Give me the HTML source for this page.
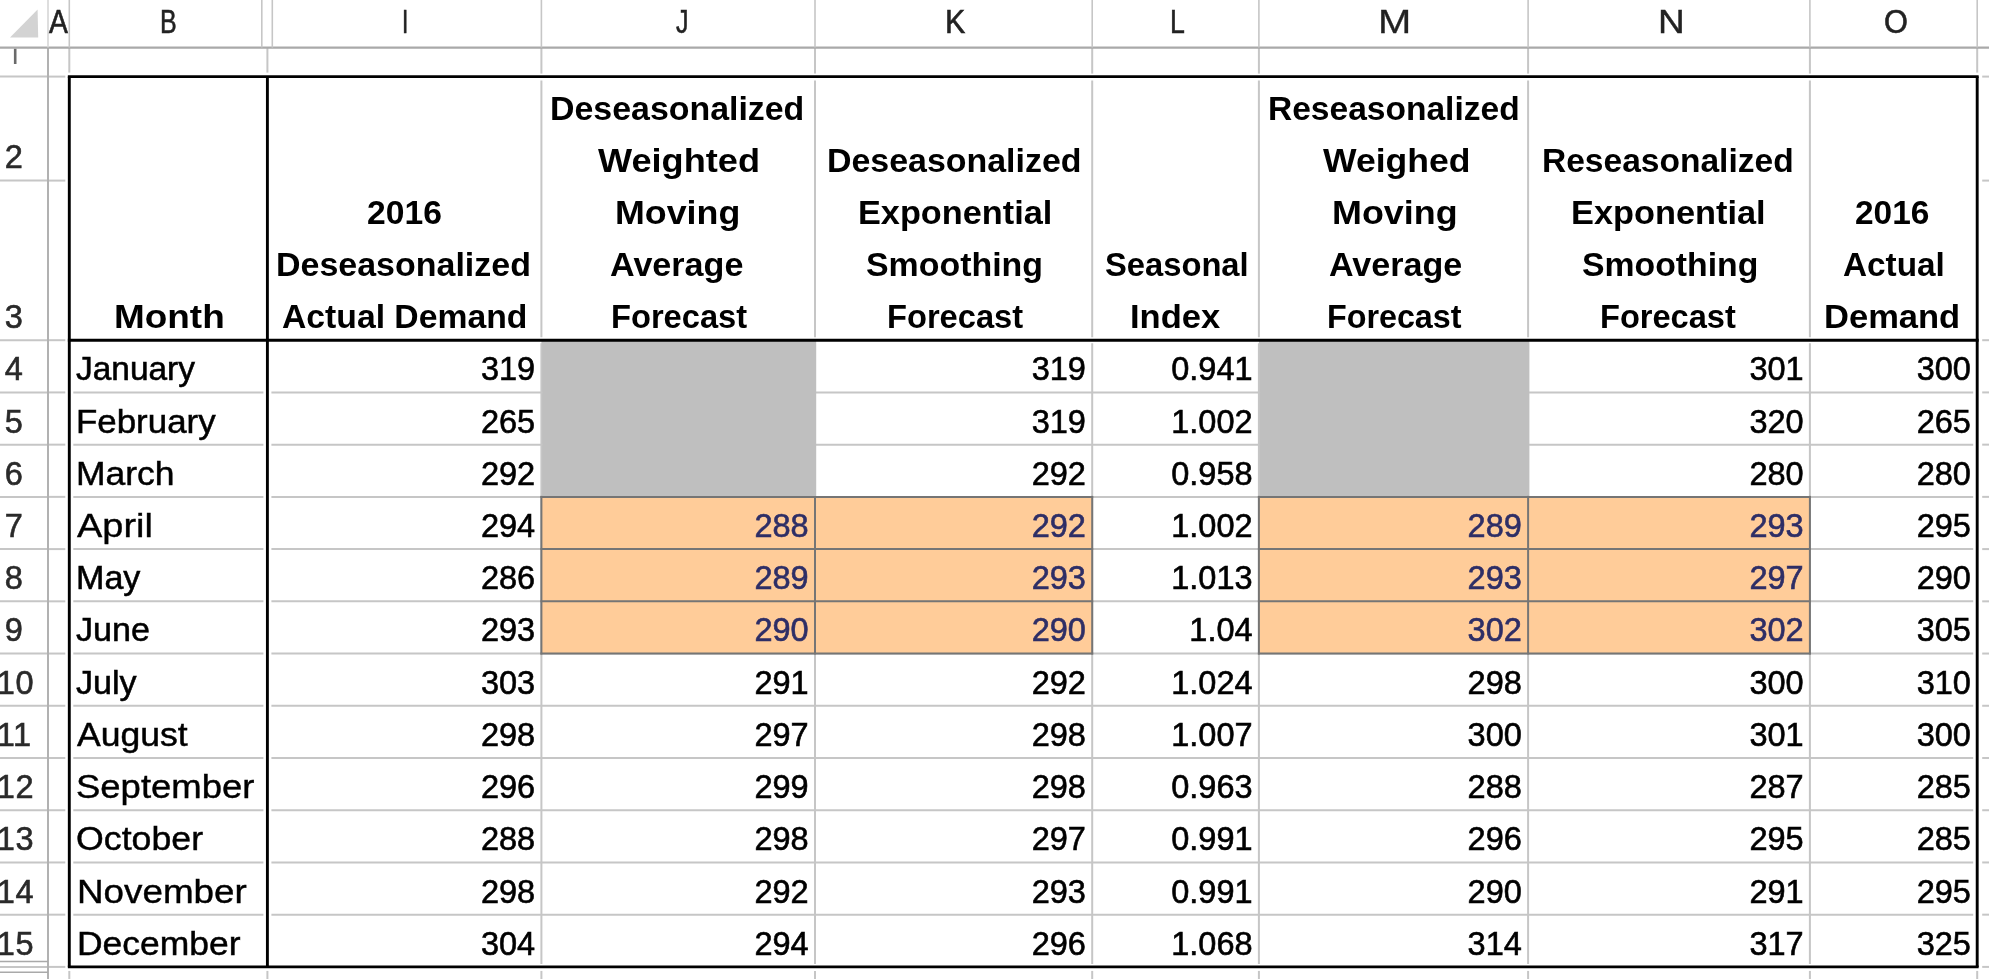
<!DOCTYPE html>
<html><head><meta charset="utf-8"><title>Sheet</title>
<style>
html,body{margin:0;padding:0;background:#fff;}
body{width:1989px;height:979px;overflow:hidden;position:relative;font-family:"Liberation Sans", sans-serif;}
#sheet{position:absolute;left:0;top:0;width:1989px;height:979px;filter:blur(0.7px);}
svg{position:absolute;left:0;top:0;}
.t{position:absolute;white-space:nowrap;font-size:32.5px;line-height:1;color:#000;transform-origin:0 0;}
.t{-webkit-text-stroke:0.6px currentColor;}
.b{font-weight:bold;-webkit-text-stroke:0;}
#r1{position:absolute;left:0;top:48.6px;width:47px;height:27.0px;overflow:hidden;}
</style></head><body>
<div id="sheet">
<svg width="1989" height="979" viewBox="0 0 1989 979">
<rect x="541.40" y="340.20" width="274.60" height="156.68" fill="#bfbfbf"/>
<rect x="1258.90" y="340.20" width="270.20" height="156.68" fill="#bfbfbf"/>
<rect x="541.40" y="496.88" width="550.80" height="156.67" fill="#ffcc99"/>
<rect x="1258.90" y="496.88" width="551.00" height="156.67" fill="#ffcc99"/>
<line x1="0.00" y1="392.43" x2="47.00" y2="392.43" stroke="#c6c6c6" stroke-width="2.0"/>
<line x1="49.00" y1="392.43" x2="65.30" y2="392.43" stroke="#c6c6c6" stroke-width="2.0"/>
<line x1="73.30" y1="392.43" x2="263.40" y2="392.43" stroke="#c6c6c6" stroke-width="2.0"/>
<line x1="271.40" y1="392.43" x2="1973.20" y2="392.43" stroke="#c6c6c6" stroke-width="2.0"/>
<line x1="1982.20" y1="392.43" x2="1989.00" y2="392.43" stroke="#c6c6c6" stroke-width="2.0"/>
<line x1="0.00" y1="444.65" x2="47.00" y2="444.65" stroke="#c6c6c6" stroke-width="2.0"/>
<line x1="49.00" y1="444.65" x2="65.30" y2="444.65" stroke="#c6c6c6" stroke-width="2.0"/>
<line x1="73.30" y1="444.65" x2="263.40" y2="444.65" stroke="#c6c6c6" stroke-width="2.0"/>
<line x1="271.40" y1="444.65" x2="1973.20" y2="444.65" stroke="#c6c6c6" stroke-width="2.0"/>
<line x1="1982.20" y1="444.65" x2="1989.00" y2="444.65" stroke="#c6c6c6" stroke-width="2.0"/>
<line x1="0.00" y1="496.88" x2="47.00" y2="496.88" stroke="#c6c6c6" stroke-width="2.0"/>
<line x1="49.00" y1="496.88" x2="65.30" y2="496.88" stroke="#c6c6c6" stroke-width="2.0"/>
<line x1="73.30" y1="496.88" x2="263.40" y2="496.88" stroke="#c6c6c6" stroke-width="2.0"/>
<line x1="271.40" y1="496.88" x2="1973.20" y2="496.88" stroke="#c6c6c6" stroke-width="2.0"/>
<line x1="1982.20" y1="496.88" x2="1989.00" y2="496.88" stroke="#c6c6c6" stroke-width="2.0"/>
<line x1="0.00" y1="549.10" x2="47.00" y2="549.10" stroke="#c6c6c6" stroke-width="2.0"/>
<line x1="49.00" y1="549.10" x2="65.30" y2="549.10" stroke="#c6c6c6" stroke-width="2.0"/>
<line x1="73.30" y1="549.10" x2="263.40" y2="549.10" stroke="#c6c6c6" stroke-width="2.0"/>
<line x1="271.40" y1="549.10" x2="1973.20" y2="549.10" stroke="#c6c6c6" stroke-width="2.0"/>
<line x1="1982.20" y1="549.10" x2="1989.00" y2="549.10" stroke="#c6c6c6" stroke-width="2.0"/>
<line x1="0.00" y1="601.33" x2="47.00" y2="601.33" stroke="#c6c6c6" stroke-width="2.0"/>
<line x1="49.00" y1="601.33" x2="65.30" y2="601.33" stroke="#c6c6c6" stroke-width="2.0"/>
<line x1="73.30" y1="601.33" x2="263.40" y2="601.33" stroke="#c6c6c6" stroke-width="2.0"/>
<line x1="271.40" y1="601.33" x2="1973.20" y2="601.33" stroke="#c6c6c6" stroke-width="2.0"/>
<line x1="1982.20" y1="601.33" x2="1989.00" y2="601.33" stroke="#c6c6c6" stroke-width="2.0"/>
<line x1="0.00" y1="653.55" x2="47.00" y2="653.55" stroke="#c6c6c6" stroke-width="2.0"/>
<line x1="49.00" y1="653.55" x2="65.30" y2="653.55" stroke="#c6c6c6" stroke-width="2.0"/>
<line x1="73.30" y1="653.55" x2="263.40" y2="653.55" stroke="#c6c6c6" stroke-width="2.0"/>
<line x1="271.40" y1="653.55" x2="1973.20" y2="653.55" stroke="#c6c6c6" stroke-width="2.0"/>
<line x1="1982.20" y1="653.55" x2="1989.00" y2="653.55" stroke="#c6c6c6" stroke-width="2.0"/>
<line x1="0.00" y1="705.77" x2="47.00" y2="705.77" stroke="#c6c6c6" stroke-width="2.0"/>
<line x1="49.00" y1="705.77" x2="65.30" y2="705.77" stroke="#c6c6c6" stroke-width="2.0"/>
<line x1="73.30" y1="705.77" x2="263.40" y2="705.77" stroke="#c6c6c6" stroke-width="2.0"/>
<line x1="271.40" y1="705.77" x2="1973.20" y2="705.77" stroke="#c6c6c6" stroke-width="2.0"/>
<line x1="1982.20" y1="705.77" x2="1989.00" y2="705.77" stroke="#c6c6c6" stroke-width="2.0"/>
<line x1="0.00" y1="758.00" x2="47.00" y2="758.00" stroke="#c6c6c6" stroke-width="2.0"/>
<line x1="49.00" y1="758.00" x2="65.30" y2="758.00" stroke="#c6c6c6" stroke-width="2.0"/>
<line x1="73.30" y1="758.00" x2="263.40" y2="758.00" stroke="#c6c6c6" stroke-width="2.0"/>
<line x1="271.40" y1="758.00" x2="1973.20" y2="758.00" stroke="#c6c6c6" stroke-width="2.0"/>
<line x1="1982.20" y1="758.00" x2="1989.00" y2="758.00" stroke="#c6c6c6" stroke-width="2.0"/>
<line x1="0.00" y1="810.23" x2="47.00" y2="810.23" stroke="#c6c6c6" stroke-width="2.0"/>
<line x1="49.00" y1="810.23" x2="65.30" y2="810.23" stroke="#c6c6c6" stroke-width="2.0"/>
<line x1="73.30" y1="810.23" x2="263.40" y2="810.23" stroke="#c6c6c6" stroke-width="2.0"/>
<line x1="271.40" y1="810.23" x2="1973.20" y2="810.23" stroke="#c6c6c6" stroke-width="2.0"/>
<line x1="1982.20" y1="810.23" x2="1989.00" y2="810.23" stroke="#c6c6c6" stroke-width="2.0"/>
<line x1="0.00" y1="862.45" x2="47.00" y2="862.45" stroke="#c6c6c6" stroke-width="2.0"/>
<line x1="49.00" y1="862.45" x2="65.30" y2="862.45" stroke="#c6c6c6" stroke-width="2.0"/>
<line x1="73.30" y1="862.45" x2="263.40" y2="862.45" stroke="#c6c6c6" stroke-width="2.0"/>
<line x1="271.40" y1="862.45" x2="1973.20" y2="862.45" stroke="#c6c6c6" stroke-width="2.0"/>
<line x1="1982.20" y1="862.45" x2="1989.00" y2="862.45" stroke="#c6c6c6" stroke-width="2.0"/>
<line x1="0.00" y1="914.67" x2="47.00" y2="914.67" stroke="#c6c6c6" stroke-width="2.0"/>
<line x1="49.00" y1="914.67" x2="65.30" y2="914.67" stroke="#c6c6c6" stroke-width="2.0"/>
<line x1="73.30" y1="914.67" x2="263.40" y2="914.67" stroke="#c6c6c6" stroke-width="2.0"/>
<line x1="271.40" y1="914.67" x2="1973.20" y2="914.67" stroke="#c6c6c6" stroke-width="2.0"/>
<line x1="1982.20" y1="914.67" x2="1989.00" y2="914.67" stroke="#c6c6c6" stroke-width="2.0"/>
<line x1="0.00" y1="76.60" x2="47.00" y2="76.60" stroke="#c6c6c6" stroke-width="2.0"/>
<line x1="49.00" y1="76.60" x2="65.30" y2="76.60" stroke="#c6c6c6" stroke-width="2.0"/>
<line x1="1982.20" y1="76.60" x2="1989.00" y2="76.60" stroke="#c6c6c6" stroke-width="2.0"/>
<line x1="0.00" y1="180.60" x2="47.00" y2="180.60" stroke="#c6c6c6" stroke-width="2.0"/>
<line x1="49.00" y1="180.60" x2="65.30" y2="180.60" stroke="#c6c6c6" stroke-width="2.0"/>
<line x1="1982.20" y1="180.60" x2="1989.00" y2="180.60" stroke="#c6c6c6" stroke-width="2.0"/>
<line x1="0.00" y1="340.20" x2="47.00" y2="340.20" stroke="#c6c6c6" stroke-width="2.0"/>
<line x1="49.00" y1="340.20" x2="65.30" y2="340.20" stroke="#c6c6c6" stroke-width="2.0"/>
<line x1="1982.20" y1="340.20" x2="1989.00" y2="340.20" stroke="#c6c6c6" stroke-width="2.0"/>
<line x1="0.00" y1="966.90" x2="47.00" y2="966.90" stroke="#c6c6c6" stroke-width="2.0"/>
<line x1="49.00" y1="966.90" x2="65.30" y2="966.90" stroke="#c6c6c6" stroke-width="2.0"/>
<line x1="1982.20" y1="966.90" x2="1989.00" y2="966.90" stroke="#c6c6c6" stroke-width="2.0"/>
<line x1="541.40" y1="47.60" x2="541.40" y2="73.60" stroke="#c6c6c6" stroke-width="2.0"/>
<line x1="541.40" y1="80.60" x2="541.40" y2="337.20" stroke="#c6c6c6" stroke-width="2.0"/>
<line x1="541.40" y1="343.20" x2="541.40" y2="963.90" stroke="#c6c6c6" stroke-width="2.0"/>
<line x1="541.40" y1="970.90" x2="541.40" y2="979.00" stroke="#c6c6c6" stroke-width="2.0"/>
<line x1="815.00" y1="47.60" x2="815.00" y2="73.60" stroke="#c6c6c6" stroke-width="2.0"/>
<line x1="815.00" y1="80.60" x2="815.00" y2="337.20" stroke="#c6c6c6" stroke-width="2.0"/>
<line x1="815.00" y1="343.20" x2="815.00" y2="963.90" stroke="#c6c6c6" stroke-width="2.0"/>
<line x1="815.00" y1="970.90" x2="815.00" y2="979.00" stroke="#c6c6c6" stroke-width="2.0"/>
<line x1="1092.20" y1="47.60" x2="1092.20" y2="73.60" stroke="#c6c6c6" stroke-width="2.0"/>
<line x1="1092.20" y1="80.60" x2="1092.20" y2="337.20" stroke="#c6c6c6" stroke-width="2.0"/>
<line x1="1092.20" y1="343.20" x2="1092.20" y2="963.90" stroke="#c6c6c6" stroke-width="2.0"/>
<line x1="1092.20" y1="970.90" x2="1092.20" y2="979.00" stroke="#c6c6c6" stroke-width="2.0"/>
<line x1="1258.90" y1="47.60" x2="1258.90" y2="73.60" stroke="#c6c6c6" stroke-width="2.0"/>
<line x1="1258.90" y1="80.60" x2="1258.90" y2="337.20" stroke="#c6c6c6" stroke-width="2.0"/>
<line x1="1258.90" y1="343.20" x2="1258.90" y2="963.90" stroke="#c6c6c6" stroke-width="2.0"/>
<line x1="1258.90" y1="970.90" x2="1258.90" y2="979.00" stroke="#c6c6c6" stroke-width="2.0"/>
<line x1="1528.10" y1="47.60" x2="1528.10" y2="73.60" stroke="#c6c6c6" stroke-width="2.0"/>
<line x1="1528.10" y1="80.60" x2="1528.10" y2="337.20" stroke="#c6c6c6" stroke-width="2.0"/>
<line x1="1528.10" y1="343.20" x2="1528.10" y2="963.90" stroke="#c6c6c6" stroke-width="2.0"/>
<line x1="1528.10" y1="970.90" x2="1528.10" y2="979.00" stroke="#c6c6c6" stroke-width="2.0"/>
<line x1="1809.90" y1="47.60" x2="1809.90" y2="73.60" stroke="#c6c6c6" stroke-width="2.0"/>
<line x1="1809.90" y1="80.60" x2="1809.90" y2="337.20" stroke="#c6c6c6" stroke-width="2.0"/>
<line x1="1809.90" y1="343.20" x2="1809.90" y2="963.90" stroke="#c6c6c6" stroke-width="2.0"/>
<line x1="1809.90" y1="970.90" x2="1809.90" y2="979.00" stroke="#c6c6c6" stroke-width="2.0"/>
<line x1="69.30" y1="47.60" x2="69.30" y2="72.60" stroke="#c6c6c6" stroke-width="2.0"/>
<line x1="69.30" y1="970.90" x2="69.30" y2="979.00" stroke="#c6c6c6" stroke-width="2.0"/>
<line x1="267.40" y1="47.60" x2="267.40" y2="72.60" stroke="#c6c6c6" stroke-width="2.0"/>
<line x1="267.40" y1="970.90" x2="267.40" y2="979.00" stroke="#c6c6c6" stroke-width="2.0"/>
<line x1="1977.20" y1="47.60" x2="1977.20" y2="72.60" stroke="#c6c6c6" stroke-width="2.0"/>
<line x1="1977.20" y1="970.90" x2="1977.20" y2="979.00" stroke="#c6c6c6" stroke-width="2.0"/>
<rect x="542.60" y="341.70" width="273.60" height="155.18" fill="#bfbfbf"/>
<rect x="1260.10" y="341.70" width="269.20" height="155.18" fill="#bfbfbf"/>
<rect x="541.40" y="496.88" width="550.80" height="156.67" fill="#ffcc99"/>
<rect x="1258.90" y="496.88" width="551.00" height="156.67" fill="#ffcc99"/>
<line x1="540.40" y1="496.88" x2="1093.20" y2="496.88" stroke="#757575" stroke-width="2"/>
<line x1="540.40" y1="549.10" x2="1093.20" y2="549.10" stroke="#757575" stroke-width="2"/>
<line x1="540.40" y1="601.33" x2="1093.20" y2="601.33" stroke="#757575" stroke-width="2"/>
<line x1="540.40" y1="653.55" x2="1093.20" y2="653.55" stroke="#757575" stroke-width="2"/>
<line x1="541.40" y1="495.88" x2="541.40" y2="654.55" stroke="#757575" stroke-width="2"/>
<line x1="815.00" y1="495.88" x2="815.00" y2="654.55" stroke="#757575" stroke-width="2"/>
<line x1="1092.20" y1="495.88" x2="1092.20" y2="654.55" stroke="#757575" stroke-width="2"/>
<line x1="1257.90" y1="496.88" x2="1810.90" y2="496.88" stroke="#757575" stroke-width="2"/>
<line x1="1257.90" y1="549.10" x2="1810.90" y2="549.10" stroke="#757575" stroke-width="2"/>
<line x1="1257.90" y1="601.33" x2="1810.90" y2="601.33" stroke="#757575" stroke-width="2"/>
<line x1="1257.90" y1="653.55" x2="1810.90" y2="653.55" stroke="#757575" stroke-width="2"/>
<line x1="1258.90" y1="495.88" x2="1258.90" y2="654.55" stroke="#757575" stroke-width="2"/>
<line x1="1528.10" y1="495.88" x2="1528.10" y2="654.55" stroke="#757575" stroke-width="2"/>
<line x1="1809.90" y1="495.88" x2="1809.90" y2="654.55" stroke="#757575" stroke-width="2"/>
<line x1="0.00" y1="47.60" x2="1989.00" y2="47.60" stroke="#a9a9a9" stroke-width="2.2"/>
<line x1="48.00" y1="47.60" x2="48.00" y2="979.00" stroke="#a9a9a9" stroke-width="1.8"/>
<line x1="48.00" y1="0.00" x2="48.00" y2="47.60" stroke="#d6d6d6" stroke-width="1.6"/>
<line x1="69.30" y1="0.00" x2="69.30" y2="47.60" stroke="#c6c6c6" stroke-width="1.6"/>
<line x1="541.40" y1="0.00" x2="541.40" y2="47.60" stroke="#c6c6c6" stroke-width="1.6"/>
<line x1="815.00" y1="0.00" x2="815.00" y2="47.60" stroke="#c6c6c6" stroke-width="1.6"/>
<line x1="1092.20" y1="0.00" x2="1092.20" y2="47.60" stroke="#c6c6c6" stroke-width="1.6"/>
<line x1="1258.90" y1="0.00" x2="1258.90" y2="47.60" stroke="#c6c6c6" stroke-width="1.6"/>
<line x1="1528.10" y1="0.00" x2="1528.10" y2="47.60" stroke="#c6c6c6" stroke-width="1.6"/>
<line x1="1809.90" y1="0.00" x2="1809.90" y2="47.60" stroke="#c6c6c6" stroke-width="1.6"/>
<line x1="1977.20" y1="0.00" x2="1977.20" y2="47.60" stroke="#c6c6c6" stroke-width="1.6"/>
<line x1="261.80" y1="0.00" x2="261.80" y2="47.60" stroke="#c6c6c6" stroke-width="1.6"/>
<line x1="272.30" y1="0.00" x2="272.30" y2="47.60" stroke="#c6c6c6" stroke-width="1.6"/>
<line x1="0.00" y1="961.50" x2="48.00" y2="961.50" stroke="#a9a9a9" stroke-width="1.6"/>
<line x1="0.00" y1="972.20" x2="48.00" y2="972.20" stroke="#a9a9a9" stroke-width="1.6"/>
<rect x="13.90" y="48.80" width="2.60" height="15.20" fill="#6a6a6a"/>
<polygon points="10,37.5 37.6,9.5 38.2,37.5" fill="#d3d3d3"/>
<line x1="67.85" y1="76.60" x2="1978.65" y2="76.60" stroke="#000" stroke-width="2.9"/>
<line x1="67.85" y1="966.90" x2="1978.65" y2="966.90" stroke="#000" stroke-width="2.9"/>
<line x1="67.85" y1="340.20" x2="1978.65" y2="340.20" stroke="#000" stroke-width="2.9"/>
<line x1="69.30" y1="76.60" x2="69.30" y2="966.90" stroke="#000" stroke-width="2.9"/>
<line x1="267.40" y1="76.60" x2="267.40" y2="966.90" stroke="#000" stroke-width="2.9"/>
<line x1="1977.20" y1="76.60" x2="1977.20" y2="966.90" stroke="#000" stroke-width="2.9"/>
</svg>

<span class="t" style="left:49.16px;top:5.69px;color:#222;transform:scaleX(0.8717);">A</span>
<span class="t" style="left:160.19px;top:5.69px;color:#222;transform:scaleX(0.7688);">B</span>
<span class="t" style="left:402.32px;top:5.69px;color:#222;transform:scaleX(0.6957);">I</span>
<span class="t" style="left:676.03px;top:5.69px;color:#222;transform:scaleX(0.7671);">J</span>
<span class="t" style="left:944.91px;top:5.69px;color:#222;transform:scaleX(0.9369);">K</span>
<span class="t" style="left:1169.61px;top:5.69px;color:#222;transform:scaleX(0.8205);">L</span>
<span class="t" style="left:1377.91px;top:5.69px;color:#222;transform:scaleX(1.2288);-webkit-text-stroke-width:0.26px;">M</span>
<span class="t" style="left:1657.97px;top:5.69px;color:#222;transform:scaleX(1.1378);-webkit-text-stroke-width:0.39px;">N</span>
<span class="t" style="left:1884.04px;top:5.69px;color:#222;transform:scaleX(0.9449);">O</span>
<span class="t" style="left:4.76px;top:141.19px;color:#2a2a2a;">2</span>
<span class="t" style="left:4.76px;top:301.09px;color:#2a2a2a;">3</span>
<span class="t" style="left:4.76px;top:353.31px;color:#2a2a2a;">4</span>
<span class="t" style="left:4.76px;top:405.54px;color:#2a2a2a;">5</span>
<span class="t" style="left:4.76px;top:457.76px;color:#2a2a2a;">6</span>
<span class="t" style="left:4.76px;top:509.99px;color:#2a2a2a;">7</span>
<span class="t" style="left:4.76px;top:562.21px;color:#2a2a2a;">8</span>
<span class="t" style="left:4.76px;top:614.44px;color:#2a2a2a;">9</span>
<span class="t" style="left:-3.30px;top:666.66px;color:#2a2a2a;letter-spacing:0.6px;">10</span>
<span class="t" style="left:-3.30px;top:718.89px;color:#2a2a2a;letter-spacing:0.6px;">11</span>
<span class="t" style="left:-3.30px;top:771.11px;color:#2a2a2a;letter-spacing:0.6px;">12</span>
<span class="t" style="left:-3.30px;top:823.34px;color:#2a2a2a;letter-spacing:0.6px;">13</span>
<span class="t" style="left:-3.30px;top:875.56px;color:#2a2a2a;letter-spacing:0.6px;">14</span>
<span class="t" style="left:-3.30px;top:927.79px;color:#2a2a2a;letter-spacing:0.6px;">15</span>
<span class="t b" style="left:114.33px;top:301.49px;transform:scaleX(1.1357);">Month</span>
<span class="t b" style="left:366.66px;top:197.09px;transform:scaleX(1.0352);">2016</span>
<span class="t b" style="left:275.71px;top:249.29px;transform:scaleX(1.0454);">Deseasonalized</span>
<span class="t b" style="left:281.90px;top:301.49px;transform:scaleX(1.0370);">Actual Demand</span>
<span class="t b" style="left:550.01px;top:92.69px;transform:scaleX(1.0429);">Deseasonalized</span>
<span class="t b" style="left:598.30px;top:144.89px;transform:scaleX(1.1120);">Weighted</span>
<span class="t b" style="left:614.70px;top:197.09px;transform:scaleX(1.1012);">Moving</span>
<span class="t b" style="left:610.40px;top:249.29px;transform:scaleX(1.0501);">Average</span>
<span class="t b" style="left:610.59px;top:301.49px;transform:scaleX(1.0048);">Forecast</span>
<span class="t b" style="left:826.51px;top:144.89px;transform:scaleX(1.0437);">Deseasonalized</span>
<span class="t b" style="left:857.99px;top:197.09px;transform:scaleX(1.0546);">Exponential</span>
<span class="t b" style="left:866.00px;top:249.29px;transform:scaleX(1.0433);">Smoothing</span>
<span class="t b" style="left:887.09px;top:301.49px;transform:scaleX(1.0048);">Forecast</span>
<span class="t b" style="left:1104.50px;top:249.29px;transform:scaleX(1.0065);">Seasonal</span>
<span class="t b" style="left:1130.27px;top:301.49px;transform:scaleX(1.0627);">Index</span>
<span class="t b" style="left:1267.84px;top:92.69px;transform:scaleX(1.0320);">Reseasonalized</span>
<span class="t b" style="left:1322.70px;top:144.89px;transform:scaleX(1.0935);">Weighed</span>
<span class="t b" style="left:1332.39px;top:197.09px;transform:scaleX(1.1039);">Moving</span>
<span class="t b" style="left:1328.60px;top:249.29px;transform:scaleX(1.0485);">Average</span>
<span class="t b" style="left:1326.61px;top:301.49px;transform:scaleX(0.9929);">Forecast</span>
<span class="t b" style="left:1541.74px;top:144.89px;transform:scaleX(1.0320);">Reseasonalized</span>
<span class="t b" style="left:1570.69px;top:197.09px;transform:scaleX(1.0563);">Exponential</span>
<span class="t b" style="left:1581.70px;top:249.29px;transform:scaleX(1.0391);">Smoothing</span>
<span class="t b" style="left:1599.99px;top:301.49px;transform:scaleX(1.0026);">Forecast</span>
<span class="t b" style="left:1855.47px;top:197.09px;transform:scaleX(1.0296);">2016</span>
<span class="t b" style="left:1843.00px;top:249.29px;transform:scaleX(1.0257);">Actual</span>
<span class="t b" style="left:1824.28px;top:301.49px;transform:scaleX(1.0622);">Demand</span>
<span class="t" style="left:75.71px;top:353.31px;transform:scaleX(1.0284);-webkit-text-stroke-width:0.56px;">January</span>
<span class="t" style="left:480.88px;top:353.31px;">319</span>
<span class="t" style="left:1031.68px;top:353.31px;">319</span>
<span class="t" style="left:1171.27px;top:353.31px;">0.941</span>
<span class="t" style="left:1749.38px;top:353.31px;">301</span>
<span class="t" style="left:1916.68px;top:353.31px;">300</span>
<span class="t" style="left:76.18px;top:405.54px;transform:scaleX(1.0734);-webkit-text-stroke-width:0.49px;">February</span>
<span class="t" style="left:480.88px;top:405.54px;">265</span>
<span class="t" style="left:1031.68px;top:405.54px;">319</span>
<span class="t" style="left:1171.27px;top:405.54px;">1.002</span>
<span class="t" style="left:1749.38px;top:405.54px;">320</span>
<span class="t" style="left:1916.68px;top:405.54px;">265</span>
<span class="t" style="left:76.14px;top:457.76px;transform:scaleX(1.0919);-webkit-text-stroke-width:0.46px;">March</span>
<span class="t" style="left:480.88px;top:457.76px;">292</span>
<span class="t" style="left:1031.68px;top:457.76px;">292</span>
<span class="t" style="left:1171.27px;top:457.76px;">0.958</span>
<span class="t" style="left:1749.38px;top:457.76px;">280</span>
<span class="t" style="left:1916.68px;top:457.76px;">280</span>
<span class="t" style="left:76.65px;top:509.99px;transform:scaleX(1.1678);-webkit-text-stroke-width:0.35px;">April</span>
<span class="t" style="left:480.88px;top:509.99px;">294</span>
<span class="t" style="left:754.48px;top:509.99px;color:#2e2e66;">288</span>
<span class="t" style="left:1031.68px;top:509.99px;color:#2e2e66;">292</span>
<span class="t" style="left:1171.27px;top:509.99px;">1.002</span>
<span class="t" style="left:1467.58px;top:509.99px;color:#2e2e66;">289</span>
<span class="t" style="left:1749.38px;top:509.99px;color:#2e2e66;">293</span>
<span class="t" style="left:1916.68px;top:509.99px;">295</span>
<span class="t" style="left:76.22px;top:562.21px;transform:scaleX(1.0486);-webkit-text-stroke-width:0.53px;">May</span>
<span class="t" style="left:480.88px;top:562.21px;">286</span>
<span class="t" style="left:754.48px;top:562.21px;color:#2e2e66;">289</span>
<span class="t" style="left:1031.68px;top:562.21px;color:#2e2e66;">293</span>
<span class="t" style="left:1171.27px;top:562.21px;">1.013</span>
<span class="t" style="left:1467.58px;top:562.21px;color:#2e2e66;">293</span>
<span class="t" style="left:1749.38px;top:562.21px;color:#2e2e66;">297</span>
<span class="t" style="left:1916.68px;top:562.21px;">290</span>
<span class="t" style="left:75.72px;top:614.44px;transform:scaleX(1.0500);-webkit-text-stroke-width:0.52px;">June</span>
<span class="t" style="left:480.88px;top:614.44px;">293</span>
<span class="t" style="left:754.48px;top:614.44px;color:#2e2e66;">290</span>
<span class="t" style="left:1031.68px;top:614.44px;color:#2e2e66;">290</span>
<span class="t" style="left:1189.35px;top:614.44px;">1.04</span>
<span class="t" style="left:1467.58px;top:614.44px;color:#2e2e66;">302</span>
<span class="t" style="left:1749.38px;top:614.44px;color:#2e2e66;">302</span>
<span class="t" style="left:1916.68px;top:614.44px;">305</span>
<span class="t" style="left:75.71px;top:666.66px;transform:scaleX(1.0500);-webkit-text-stroke-width:0.53px;">July</span>
<span class="t" style="left:480.88px;top:666.66px;">303</span>
<span class="t" style="left:754.48px;top:666.66px;">291</span>
<span class="t" style="left:1031.68px;top:666.66px;">292</span>
<span class="t" style="left:1171.27px;top:666.66px;">1.024</span>
<span class="t" style="left:1467.58px;top:666.66px;">298</span>
<span class="t" style="left:1749.38px;top:666.66px;">300</span>
<span class="t" style="left:1916.68px;top:666.66px;">310</span>
<span class="t" style="left:76.63px;top:718.89px;transform:scaleX(1.0929);-webkit-text-stroke-width:0.46px;">August</span>
<span class="t" style="left:480.88px;top:718.89px;">298</span>
<span class="t" style="left:754.48px;top:718.89px;">297</span>
<span class="t" style="left:1031.68px;top:718.89px;">298</span>
<span class="t" style="left:1171.27px;top:718.89px;">1.007</span>
<span class="t" style="left:1467.58px;top:718.89px;">300</span>
<span class="t" style="left:1749.38px;top:718.89px;">301</span>
<span class="t" style="left:1916.68px;top:718.89px;">300</span>
<span class="t" style="left:76.21px;top:771.11px;transform:scaleX(1.1225);-webkit-text-stroke-width:0.42px;">September</span>
<span class="t" style="left:480.88px;top:771.11px;">296</span>
<span class="t" style="left:754.48px;top:771.11px;">299</span>
<span class="t" style="left:1031.68px;top:771.11px;">298</span>
<span class="t" style="left:1171.27px;top:771.11px;">0.963</span>
<span class="t" style="left:1467.58px;top:771.11px;">288</span>
<span class="t" style="left:1749.38px;top:771.11px;">287</span>
<span class="t" style="left:1916.68px;top:771.11px;">285</span>
<span class="t" style="left:76.23px;top:823.34px;transform:scaleX(1.0989);-webkit-text-stroke-width:0.45px;">October</span>
<span class="t" style="left:480.88px;top:823.34px;">288</span>
<span class="t" style="left:754.48px;top:823.34px;">298</span>
<span class="t" style="left:1031.68px;top:823.34px;">297</span>
<span class="t" style="left:1171.27px;top:823.34px;">0.991</span>
<span class="t" style="left:1467.58px;top:823.34px;">296</span>
<span class="t" style="left:1749.38px;top:823.34px;">295</span>
<span class="t" style="left:1916.68px;top:823.34px;">285</span>
<span class="t" style="left:76.67px;top:875.56px;transform:scaleX(1.1325);-webkit-text-stroke-width:0.40px;">November</span>
<span class="t" style="left:480.88px;top:875.56px;">298</span>
<span class="t" style="left:754.48px;top:875.56px;">292</span>
<span class="t" style="left:1031.68px;top:875.56px;">293</span>
<span class="t" style="left:1171.27px;top:875.56px;">0.991</span>
<span class="t" style="left:1467.58px;top:875.56px;">290</span>
<span class="t" style="left:1749.38px;top:875.56px;">291</span>
<span class="t" style="left:1916.68px;top:875.56px;">295</span>
<span class="t" style="left:76.75px;top:927.79px;transform:scaleX(1.0908);-webkit-text-stroke-width:0.46px;">December</span>
<span class="t" style="left:480.88px;top:927.79px;">304</span>
<span class="t" style="left:754.48px;top:927.79px;">294</span>
<span class="t" style="left:1031.68px;top:927.79px;">296</span>
<span class="t" style="left:1171.27px;top:927.79px;">1.068</span>
<span class="t" style="left:1467.58px;top:927.79px;">314</span>
<span class="t" style="left:1749.38px;top:927.79px;">317</span>
<span class="t" style="left:1916.68px;top:927.79px;">325</span>
</div>
</body></html>
